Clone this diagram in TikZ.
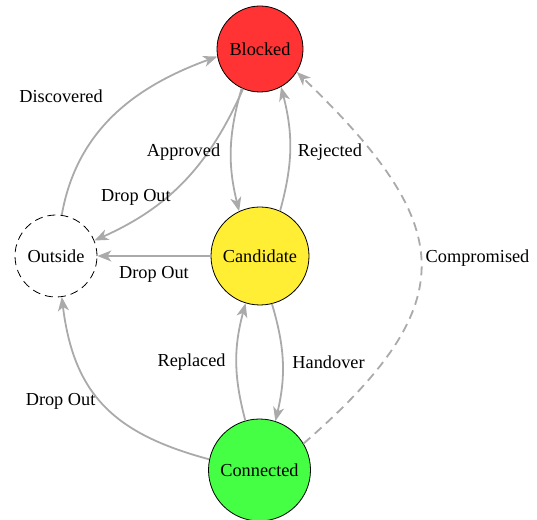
\documentclass[tikz,border=0pt]{standalone}
\usepackage{fontspec}
\setmainfont{Liberation Serif}
\usetikzlibrary{arrows.meta}
\definecolor{edgegray}{RGB}{170,170,170}
\definecolor{blockred}{RGB}{255,51,51}
\definecolor{candyellow}{RGB}{255,238,51}
\definecolor{conngreen}{RGB}{68,255,68}
\begin{document}
\begin{tikzpicture}[x=1pt,y=1pt,
  state/.style={circle, draw=black, line width=0.8pt, inner sep=0pt, font=\fontsize{18.3}{22}\selectfont},
  trans/.style={draw=edgegray, line width=1.8pt, -{Stealth[length=14pt,width=11pt,inset=4pt]}},
  lbl/.style={font=\fontsize{18.3}{22}\selectfont, inner sep=2pt, text=black},
  dashline/.style={dash pattern=on 9pt off 6pt}
]
\useasboundingbox (0,0) rectangle (537,519);
\node[state, fill=blockred, minimum size=86pt] (B) at (260,470) {Blocked};
\node[state, fill=candyellow, minimum size=98pt] (C) at (260,263) {Candidate};
\node[state, fill=conngreen, minimum size=102pt] (N) at (259.5,49) {Connected};
\node[state, dash pattern=on 8pt off 5pt, minimum size=82pt] (O) at (56,263) {Outside};

\draw[trans] (O.82) to[out=80,in=200] node[lbl, pos=0.5, anchor=south east, xshift=-9pt, yshift=9pt] {Discovered} (B.190);
\draw[trans] (B.247) to[out=246,in=24] node[lbl, pos=0.62, anchor=east, xshift=7pt] {Drop Out} (O.22);
\draw[trans] (B.245) to[bend right=15] node[lbl, left=8pt, yshift=-3pt] {Approved} (C.115);
\draw[trans] (C.66) to[bend right=15] node[lbl, right=5pt, yshift=-3pt] {Rejected} (B.299);
\draw[trans] (C) -- node[lbl, below=7pt] {Drop Out} (O);
\draw[trans] (C.284) to[bend left=15] node[lbl, right=7pt] {Handover} (N.72);
\draw[trans] (N.106) to[bend left=15] node[lbl, left=8pt] {Replaced} (C.253);
\draw[trans] (N.168) to[out=165,in=-83,looseness=1.15] node[lbl, left=6pt, yshift=4pt] {Drop Out} (O.278);
\draw[trans, dashline] (N.31) to[out=41,in=-44,looseness=1.5] node[lbl, right=2pt, yshift=3pt] {Compromised} (B.328);
\end{tikzpicture}
\end{document}
